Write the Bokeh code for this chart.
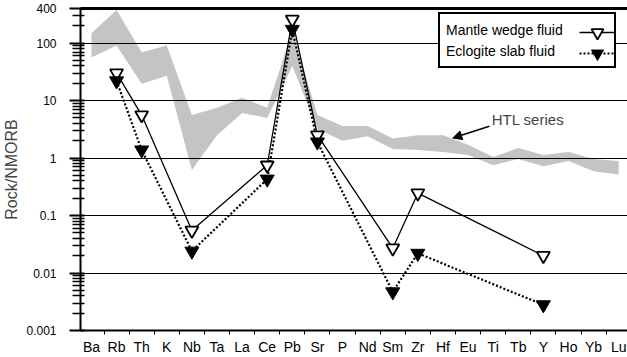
from bokeh.plotting import figure
from bokeh.models import (FixedTicker, Legend, LegendItem, Label, Arrow, LinearAxis,
                          NormalHead, CustomJSTickFormatter)
from bokeh.embed import file_html
from bokeh.resources import INLINE

# ---------------- data ----------------
elements = ["Ba", "Rb", "Th", "K", "Nb", "Ta", "La", "Ce", "Pb", "Sr", "P", "Nd",
            "Sm", "Zr", "Hf", "Eu", "Ti", "Tb", "Y", "Ho", "Yb", "Lu"]
htl_upper = [148, 375, 69, 91, 5.6, 7.5, 11.2, 7.5, 160, 5.6, 3.6, 3.6,
             2.2, 2.5, 2.5, 1.7, 1.04, 1.5, 1.13, 1.27, 0.96, 0.89]
htl_lower = [56, 91, 19.6, 27, 0.62, 2.5, 6.1, 5.0, 40, 3.2, 2.0, 2.4,
             1.44, 1.38, 1.27, 1.13, 0.75, 0.96, 0.72, 0.89, 0.59, 0.52]
fluid_elements = ["Rb", "Th", "Nb", "Ce", "Pb", "Sr", "Sm", "Zr", "Y"]
mantle_wedge = [30, 5.6, 0.055, 0.75, 258, 2.5, 0.027, 0.245, 0.020]
eclogite_slab = [22, 1.38, 0.024, 0.43, 173, 1.9, 0.0047, 0.022, 0.0028]
y_ticks = [0.001, 0.01, 0.1, 1, 10, 100, 400]
y_grid = [0.01, 0.1, 1, 10, 100]

FONT = "Liberation Sans"

idx = {e: i for i, e in enumerate(elements)}
x_all = list(range(len(elements)))
x_fluid = [idx[e] for e in fluid_elements]

minor_y = []
for n in range(-3, 3):
    for k in range(2, 10):
        v = k * 10 ** n
        if v < 400:
            minor_y.append(float(f"{v:.6g}"))

p = figure(width=627, height=357, y_axis_type="log",
           x_range=(-0.4365, 21.35), y_range=(0.001, 400),
           output_backend="svg", toolbar_location=None,
           min_border_left=78, min_border_right=0, min_border_top=0,
           min_border_bottom=24)
p.outline_line_color = None
p.background_fill_color = "white"

# grid
p.xgrid.visible = False
p.ygrid.ticker = FixedTicker(ticks=y_grid)
p.ygrid.grid_line_color = "black"
p.ygrid.grid_line_width = 1
p.ygrid.grid_line_alpha = 1

# HTL band
p.varea(x=x_all, y1=htl_lower, y2=htl_upper, fill_color="#c4c4c4", level="image")

# series
r1 = p.line(x_fluid, mantle_wedge, line_color="black", line_width=1.3)
r2 = p.line(x_fluid, eclogite_slab, line_color="black", line_width=2.2, line_dash="2 2")
s1 = p.scatter(x_fluid, mantle_wedge, marker="inverted_triangle", size=13,
               fill_color="white", line_color="black", line_width=1.8)
s2 = p.scatter(x_fluid, eclogite_slab, marker="inverted_triangle", size=14,
               fill_color="black", line_color="black", line_width=1)

# y axis
ya = p.left[0]
ya.ticker = FixedTicker(ticks=y_ticks, minor_ticks=minor_y)
ya.formatter = CustomJSTickFormatter(code="return tick.toString()")
ya.axis_line_width = 2
ya.major_tick_out = 11
ya.major_tick_in = 4
ya.major_tick_line_width = 2
ya.minor_tick_out = 8
ya.minor_tick_in = 4
ya.minor_tick_line_width = 1.5
ya.major_label_standoff = 13
ya.major_label_text_font = FONT
ya.major_label_text_font_size = "12px"
ya.major_label_text_color = "black"
ya.axis_label = "Rock/NMORB"
ya.axis_label_text_font = FONT
ya.axis_label_text_font_size = "16px"
ya.axis_label_text_font_style = "normal"
ya.axis_label_standoff = 3

# x axis (bottom)
xa = p.below[0]
xa.ticker = FixedTicker(ticks=x_all, minor_ticks=[i - 0.5 for i in range(len(elements) + 1)])
xa.formatter = CustomJSTickFormatter(args={"names": elements},
                                     code="const i = Math.round(tick); return (i >= 0 && i < names.length) ? names[i] : '';")
xa.axis_line_width = 2
xa.major_tick_line_color = None
xa.major_tick_in = 0
xa.major_tick_out = 0
xa.minor_tick_in = 0
xa.minor_tick_out = 4
xa.minor_tick_line_width = 1
xa.major_label_standoff = 4
xa.major_label_text_font = FONT
xa.major_label_text_font_size = "14px"
xa.major_label_text_color = "black"

# top border line: an above axis with hidden ticks and labels, sized to ~9px
top_axis = LinearAxis(ticker=FixedTicker(ticks=x_all),
                      formatter=CustomJSTickFormatter(code="return ''"),
                      axis_line_width=3, axis_line_color="black",
                      major_label_text_font_size="1px", major_label_text_alpha=0,
                      major_tick_line_color=None, minor_tick_line_color=None,
                      major_tick_out=8, major_tick_in=0, minor_tick_out=0, minor_tick_in=0,
                      major_label_standoff=0)
p.add_layout(top_axis, "above")

# HTL annotation
p.add_layout(Label(x=15.94, y=4.6, text="HTL series", text_font=FONT,
                   text_font_size="15px", text_baseline="middle", text_align="left"))
p.add_layout(Arrow(end=NormalHead(size=9, fill_color="black", line_color="black"),
                   x_start=15.85, y_start=3.57, x_end=14.39, y_end=2.23,
                   line_color="black", line_width=1.5))

# legend: box with text
dummy = p.line(x=[], y=[], line_alpha=0)
leg_text = Legend(items=[LegendItem(label="Mantle wedge fluid", renderers=[dummy]),
                         LegendItem(label="Eclogite slab fluid", renderers=[dummy])],
                  location=(358, 262), orientation="vertical",
                  glyph_width=1, glyph_height=21, label_height=21, label_width=163,
                  label_standoff=0, padding=5, spacing=0, margin=0,
                  border_line_color="black", border_line_width=2, border_line_alpha=1,
                  background_fill_color="white", background_fill_alpha=1,
                  label_text_font=FONT, label_text_font_size="14px",
                  label_text_color="black")
p.add_layout(leg_text)

# legend: glyph samples on the right (one small legend per row)
glyph_kw = dict(orientation="vertical", glyph_width=36, glyph_height=30, label_height=0,
                label_width=0, label_standoff=0, padding=0, spacing=0, margin=0,
                border_line_alpha=0, background_fill_alpha=0, label_text_font_size="1px")
p.add_layout(Legend(items=[LegendItem(label=" ", renderers=[r1, s1])],
                    location=(499, 283), **glyph_kw))
p.add_layout(Legend(items=[LegendItem(label=" ", renderers=[r2, s2])],
                    location=(499, 262), **glyph_kw))

open("out.html", "w").write(file_html(p, INLINE))
